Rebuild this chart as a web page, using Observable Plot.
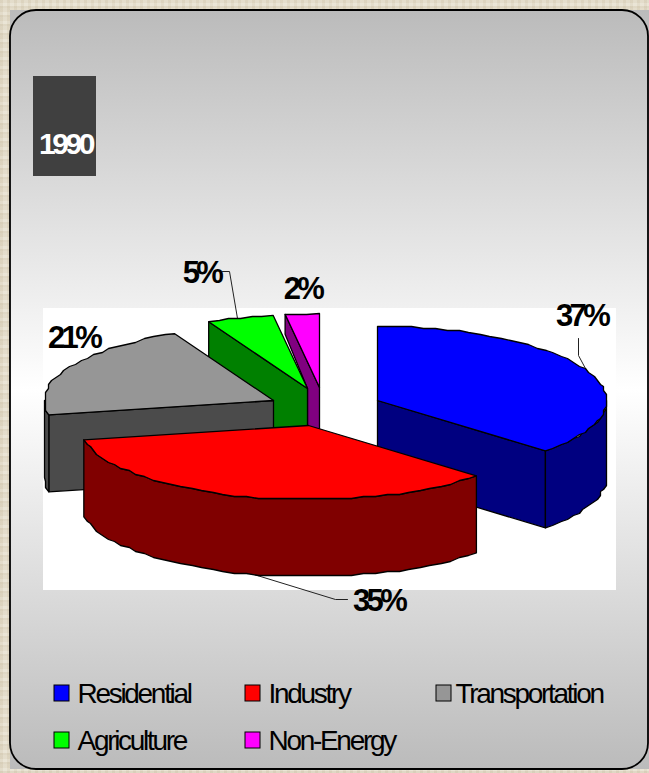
<!DOCTYPE html>
<html><head><meta charset="utf-8">
<script src="https://cdn.jsdelivr.net/npm/d3@7"></script>
<script src="https://cdn.jsdelivr.net/npm/@observablehq/plot@0.6"></script>
<style>
html,body{margin:0;padding:0;width:649px;height:773px;overflow:hidden}
#page{position:relative;width:649px;height:773px;
 background:
  repeating-linear-gradient(0deg,rgba(150,130,90,.10) 0 2px,rgba(255,255,255,.10) 2px 5px,rgba(150,130,90,.05) 5px 9px),
  repeating-linear-gradient(90deg,rgba(150,130,90,.08) 0 3px,rgba(255,255,255,.08) 3px 7px),
  #e6dfcd}
#page svg{display:block;background:transparent!important}
.legend text{letter-spacing:-2.3px}
.pct text{letter-spacing:-3.6px}
.year text{letter-spacing:-3.4px}
</style></head>
<body><div id="page"></div>
<script>
const year = "1990";
const categories = ["Residential","Industry","Transportation","Agriculture","Non-Energy"];
const shares = [36.9,35,21,4.7,2.4];
const topColors = ["#0000ff","#ff0000","#969696","#00ff00","#ff00ff"];
const sideColors = ["#000080","#800000","#4b4b4b","#008000","#800080"];
// Where each exploded slice's apex sits, and where its label goes
const apexX = [377,308,273,307,319];
const apexY = [400,425,400,388,387];
const labelX = [581,378,73,201,302];
const labelY = [325,610,347,282,298];
const leaders = [
  [[578,338],[578,355],[585,368]],
  [[347,599],[335,599],[247,572]],
  [],
  [[222,271],[229,271],[237,318]],
  []
];

const W = 649, H = 773, rx = 229, ry = 74, depth = 77;
const rad = d => d * Math.PI / 180;
const total = d3.sum(shares);
let acc = 0;
const slices = categories.map((name,i) => {
  const t0 = acc / total * 360; acc += shares[i];
  const t1 = acc / total * 360;
  return {name, i, t0, t1, ax: apexX[i], ay: apexY[i]};
});
const at = (s,t) => [s.ax + rx*Math.sin(rad(t)), s.ay - ry*Math.cos(rad(t))];
function arc(s,a,b){
  const n = Math.max(1, Math.ceil((b-a)/3)), out = [];
  for(let k=0;k<=n;k++){
    const p = at(s, a+(b-a)*k/n);
    out.push(k===0||k===n ? p : [Math.round(p[0]/3)*3, Math.round(p[1]/2)*2]);
  }
  return out;
}
const down = pts => pts.map(p=>[p[0],p[1]+depth]);
const poly = (pts,fill) => Plot.line(pts,{x:d=>d[0],y:d=>d[1],curve:"linear-closed",fill,stroke:"#000",strokeWidth:1.3,strokeLinejoin:"round"});

const pieMarks = [];
for (const i of [4,3,2,0,1]) {
  const s = slices[i], A=[s.ax,s.ay];
  if (Math.sin(rad(s.t0)) < -1e-6) {
    const e=at(s,s.t0);
    if (i===4) {
      // the neighbouring green wedge hides most of this cut face
      pieMarks.push(poly([e,A,[A[0],A[1]+depth],[apexX[3],apexY[3]+depth],[apexX[3],apexY[3]],[e[0],e[1]+20]],sideColors[i]));
    } else pieMarks.push(poly([A,e,...down([e]),...down([A])],sideColors[i]));
  }
  if (Math.sin(rad(s.t1)) > 1e-6)  { const e=at(s,s.t1); pieMarks.push(poly([A,e,...down([e]),...down([A])],sideColors[i])); }
  const a=Math.max(s.t0,90), b=Math.min(s.t1,270);
  if (b>a){ const c=arc(s,a,b); pieMarks.push(poly([...c,...down(c).reverse()],sideColors[i])); }
  pieMarks.push(poly([A,...arc(s,s.t0,s.t1)],topColors[i]));
}
const leaderMarks = leaders.filter(l=>l.length).map(l=>Plot.line(l,{x:d=>d[0],y:d=>d[1],stroke:"#222",strokeWidth:1}));

const pctData = slices.map((s,i)=>({x:labelX[i],y:labelY[i],t:Math.round(shares[i])+"%"}));
const legendData = slices.map((s,i)=>({name:s.name,col:i%3,row:Math.floor(i/3),fill:topColors[i]}));
const lx = d=>54+d.col*191, ly = d=>685+d.row*47;

const chart = Plot.plot({
  width:W,height:H,margin:0,
  x:{domain:[0,W],range:[0,W],axis:null},
  y:{domain:[0,H],range:[0,H],axis:null},
  style:{background:"transparent",fontFamily:"'Liberation Sans',Arial,sans-serif"},
  marks:[
    Plot.rect([0],{x1:10,x2:649,y1:10,y2:769,fill:"url(#panelGrad)"}),
    () => { const s=d3.create("svg:defs");
      const g=s.append("linearGradient").attr("id","panelGrad").attr("x1",0).attr("x2",0).attr("y1",0).attr("y2",1);
      [[0,"#bbbbbb"],[.5,"#ffffff"],[1,"#bbbbbb"]].forEach(d=>g.append("stop").attr("offset",d[0]).attr("stop-color",d[1]));
      return s.node(); },
    Plot.rect([0],{x1:10,x2:648,y1:10,y2:769,rx:26,fill:"none",stroke:"#000",strokeWidth:1.8}),
    Plot.rect([0],{x1:43,x2:616,y1:308,y2:590,fill:"#fff"}),
    Plot.rect([0],{x1:33,x2:96,y1:76,y2:176,fill:"#404040"}),
    Plot.text([year],{x:65,y:153,text:d=>d,fill:"#fff",fontSize:30,fontWeight:"bold",textAnchor:"middle",lineAnchor:"bottom",className:"year"}),
    ...leaderMarks,
    ...pieMarks,
    Plot.text(pctData,{x:"x",y:"y",text:"t",fontSize:31,fontWeight:"bold",fill:"#000",textAnchor:"middle",lineAnchor:"bottom",className:"pct"}),
    Plot.rect(legendData,{x1:lx,x2:d=>lx(d)+15,y1:ly,y2:d=>ly(d)+16,fill:"fill",stroke:"#000",strokeWidth:1}),
    Plot.text(legendData,{x:d=>lx(d)+(d.col==2?19:23),y:d=>ly(d)+17,text:"name",fontSize:28,fill:"#000",textAnchor:"start",lineAnchor:"bottom",className:"legend"})
  ]
});
document.getElementById("page").appendChild(chart);
</script></body></html>
